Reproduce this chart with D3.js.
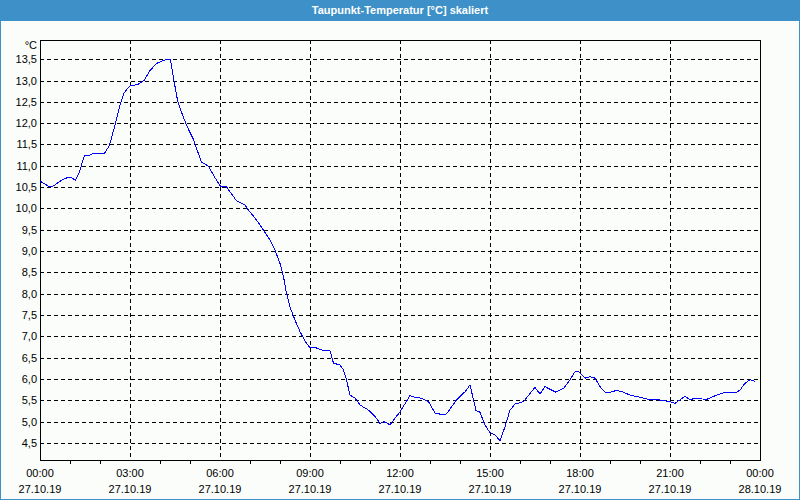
<!DOCTYPE html>
<html><head><meta charset="utf-8">
<script src="https://cdn.jsdelivr.net/npm/d3@7"></script>
<style>
html,body{margin:0;padding:0;background:#fff;}
svg{display:block;}
text{font-family:"Liberation Sans","DejaVu Sans",sans-serif;}
</style></head><body>
<svg id="c" width="800" height="500"></svg>
<script>
const title = "Taupunkt-Temperatur [°C] skaliert";
const unitLabel = "°C";
// time in minutes after 27.10.19 00:00
const minutes = [0,19,26,43,56,63,71,79,89,96,106,129,139,149,159,168,179,196,209,219,233,249,261,266,275,283,293,306,313,323,337,349,361,373,380,393,410,417,433,447,460,470,480,487,493,500,510,520,531,540,550,563,580,587,600,607,613,620,630,640,657,670,680,687,695,700,710,720,740,753,763,777,790,807,813,833,850,860,867,872,880,890,900,910,920,930,940,950,967,980,990,1000,1010,1020,1032,1047,1060,1070,1077,1090,1100,1110,1120,1130,1140,1153,1167,1180,1193,1207,1220,1233,1247,1260,1270,1280,1290,1300,1310,1333,1353,1370,1393,1400,1410,1420,1427,1430];
const values = [10.64,10.51,10.52,10.66,10.73,10.72,10.66,10.86,11.25,11.23,11.29,11.29,11.48,11.91,12.38,12.70,12.87,12.91,13.01,13.22,13.40,13.48,13.50,13.12,12.54,12.26,11.95,11.64,11.41,11.09,10.99,10.74,10.52,10.51,10.39,10.18,10.08,9.96,9.73,9.49,9.26,9.02,8.71,8.40,8.01,7.69,7.38,7.11,6.87,6.73,6.74,6.68,6.66,6.37,6.33,6.21,5.98,5.62,5.55,5.39,5.27,5.12,4.96,5.00,4.96,4.92,5.08,5.23,5.61,5.56,5.55,5.47,5.20,5.16,5.18,5.51,5.70,5.86,5.51,5.26,5.22,4.92,4.74,4.69,4.55,4.88,5.27,5.41,5.47,5.66,5.80,5.65,5.82,5.76,5.69,5.78,5.98,6.17,6.17,6.02,6.05,6.02,5.82,5.69,5.69,5.73,5.69,5.62,5.59,5.55,5.51,5.52,5.49,5.47,5.43,5.51,5.60,5.51,5.55,5.52,5.62,5.69,5.69,5.74,5.90,5.98,5.96,5.94];
const yTicks = [4.5,5.0,5.5,6.0,6.5,7.0,7.5,8.0,8.5,9.0,9.5,10.0,10.5,11.0,11.5,12.0,12.5,13.0,13.5];
const xTickHours = [0,3,6,9,12,15,18,21,24];
const xTickTimes = ["00:00","03:00","06:00","09:00","12:00","15:00","18:00","21:00","00:00"];
const xTickDates = ["27.10.19","27.10.19","27.10.19","27.10.19","27.10.19","27.10.19","27.10.19","27.10.19","28.10.19"];

const W = 800, H = 500;
const L = 40, R = 760, T = 40, B = 460;
const blue = "#3d91c8";
const svg = d3.select("#c");

// frame & title bar
svg.append("rect").attr("x",0.5).attr("y",0.5).attr("width",W-1).attr("height",H-1)
  .attr("fill","#fafdfa").attr("stroke",blue).attr("stroke-width",1);
svg.append("rect").attr("x",0).attr("y",0).attr("width",W).attr("height",21).attr("fill",blue);
svg.append("text").attr("x",W/2).attr("y",14).attr("text-anchor","middle")
  .attr("fill","#fff").attr("font-size","11px").attr("font-weight","bold").text(title);

const x = d3.scaleLinear().domain([0,24*60]).range([L,R]);
const y = d3.scaleLinear().domain([4.1,13.95]).range([B,T]);
const px = v => Math.round(v)+0.5;

const g = svg.append("g").attr("shape-rendering","crispEdges");
// horizontal grid
g.selectAll("line.hg").data(yTicks).join("line").attr("class","hg")
  .attr("x1",L).attr("x2",R).attr("y1",d=>px(y(d))).attr("y2",d=>px(y(d)))
  .attr("stroke","#000").attr("stroke-dasharray","4,3");
// vertical grid
g.selectAll("line.vg").data(xTickHours.slice(1,-1)).join("line").attr("class","vg")
  .attr("y1",T).attr("y2",B).attr("x1",d=>px(x(d*60))).attr("x2",d=>px(x(d*60)))
  .attr("stroke","#000").attr("stroke-dasharray","4,3");
// minor ticks (hourly)
const minorHours = d3.range(0,25).filter(h=>h%3!==0);
g.selectAll("line.mt").data(minorHours).join("line").attr("class","mt")
  .attr("x1",d=>px(x(d*60))).attr("x2",d=>px(x(d*60))).attr("y1",B).attr("y2",B+4)
  .attr("stroke","#000");
// plot frame
g.append("rect").attr("x",L+0.5).attr("y",T+0.5).attr("width",R-L).attr("height",B-T)
  .attr("fill","none").attr("stroke","#000");

// y labels
svg.selectAll("text.yl").data(yTicks).join("text").attr("class","yl")
  .attr("x",L-3).attr("y",d=>y(d)+4).attr("text-anchor","end")
  .attr("font-size","11px").attr("fill","#000")
  .text(d=>d3.format(".1f")(d).replace(".",","));
svg.append("text").attr("x",L-3).attr("y",T+9).attr("text-anchor","end")
  .attr("font-size","11px").attr("fill","#000").text(unitLabel);

// x labels
svg.selectAll("text.xt").data(xTickHours).join("text").attr("class","xt")
  .attr("x",d=>x(d*60)).attr("y",477).attr("text-anchor","middle")
  .attr("font-size","11px").attr("fill","#000").text((d,i)=>xTickTimes[i]);
svg.selectAll("text.xd").data(xTickHours).join("text").attr("class","xd")
  .attr("x",d=>x(d*60)).attr("y",493).attr("text-anchor","middle")
  .attr("font-size","11px").attr("fill","#000").text((d,i)=>xTickDates[i]);

// data line
const line = d3.line().x((d,i)=>x(minutes[i])).y(d=>y(d));
svg.append("path").datum(values).attr("d",line)
  .attr("fill","none").attr("stroke","#0000ff").attr("stroke-width",1)
  .attr("shape-rendering","crispEdges");
</script>
</body></html>
